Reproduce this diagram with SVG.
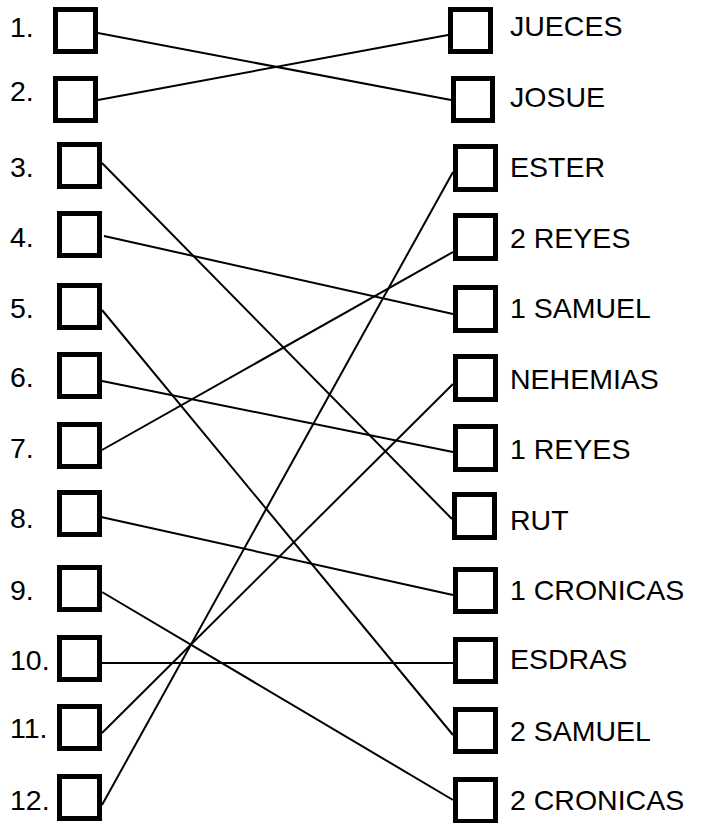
<svg xmlns="http://www.w3.org/2000/svg" width="705" height="823" viewBox="0 0 705 823">
<style>
.box{fill:#fff;stroke:#000;stroke-width:5}
.lbl{font-family:"Liberation Sans",Arial,sans-serif;font-size:28.5px;fill:#000}
.ln{stroke:#000;stroke-width:2;fill:none}
</style>
<rect width="705" height="823" fill="#fff"/>
<g id="connectors">
<line class="ln" x1="98" y1="33" x2="451" y2="100"/>
<line class="ln" x1="98" y1="100" x2="448" y2="35"/>
<line class="ln" x1="102" y1="163" x2="452" y2="519"/>
<line class="ln" x1="104" y1="236" x2="453" y2="314"/>
<line class="ln" x1="102" y1="310" x2="453" y2="735"/>
<line class="ln" x1="102" y1="381" x2="453" y2="452"/>
<line class="ln" x1="102" y1="450" x2="453" y2="252"/>
<line class="ln" x1="101" y1="517" x2="453" y2="595"/>
<line class="ln" x1="102" y1="592" x2="453" y2="800"/>
<line class="ln" x1="102" y1="663" x2="453" y2="663"/>
<line class="ln" x1="102" y1="733" x2="453" y2="384"/>
<line class="ln" x1="102" y1="805" x2="453" y2="172"/>
</g>
<g id="left-1"><rect class="box" x="55.5" y="9.5" width="40" height="42"/><text class="lbl" x="10" y="37">1.</text></g>
<g id="left-2"><rect class="box" x="55.5" y="78.5" width="40" height="42"/><text class="lbl" x="10" y="101">2.</text></g>
<g id="left-3"><rect class="box" x="59.5" y="144.5" width="40" height="42"/><text class="lbl" x="10" y="177">3.</text></g>
<g id="left-4"><rect class="box" x="59.5" y="213.5" width="40" height="42"/><text class="lbl" x="10" y="247">4.</text></g>
<g id="left-5"><rect class="box" x="59.5" y="285.5" width="40" height="42"/><text class="lbl" x="10" y="318">5.</text></g>
<g id="left-6"><rect class="box" x="59.5" y="354.5" width="40" height="42"/><text class="lbl" x="10" y="387">6.</text></g>
<g id="left-7"><rect class="box" x="59.5" y="424.5" width="40" height="42"/><text class="lbl" x="10" y="458">7.</text></g>
<g id="left-8"><rect class="box" x="59.5" y="492.5" width="40" height="42"/><text class="lbl" x="10" y="528">8.</text></g>
<g id="left-9"><rect class="box" x="59.5" y="567.5" width="40" height="42"/><text class="lbl" x="10" y="600">9.</text></g>
<g id="left-10"><rect class="box" x="59.5" y="637.5" width="40" height="42"/><text class="lbl" x="10" y="670">10.</text></g>
<g id="left-11"><rect class="box" x="59.5" y="706.5" width="40" height="42"/><text class="lbl" x="10" y="738">11.</text></g>
<g id="left-12"><rect class="box" x="59.5" y="776.5" width="40" height="42"/><text class="lbl" x="10" y="810">12.</text></g>
<g id="right-jueces"><rect class="box" x="450.5" y="9.5" width="40" height="42"/><text class="lbl" x="510" y="36">JUECES</text></g>
<g id="right-josue"><rect class="box" x="453.5" y="78.5" width="39" height="42"/><text class="lbl" x="510" y="107">JOSUE</text></g>
<g id="right-ester"><rect class="box" x="455.5" y="146.5" width="40" height="43"/><text class="lbl" x="510" y="177">ESTER</text></g>
<g id="right-2reyes"><rect class="box" x="455.5" y="215.5" width="40" height="43"/><text class="lbl" x="510" y="248">2 REYES</text></g>
<g id="right-1samuel"><rect class="box" x="455.5" y="287.5" width="40" height="43"/><text class="lbl" x="510" y="318">1 SAMUEL</text></g>
<g id="right-nehemias"><rect class="box" x="455.5" y="356.5" width="40" height="43"/><text class="lbl" x="510" y="389">NEHEMIAS</text></g>
<g id="right-1reyes"><rect class="box" x="455.5" y="426.5" width="40" height="43"/><text class="lbl" x="510" y="459">1 REYES</text></g>
<g id="right-rut"><rect class="box" x="454.5" y="494.5" width="40" height="43"/><text class="lbl" x="510" y="530">RUT</text></g>
<g id="right-1cronicas"><rect class="box" x="455.5" y="569.5" width="40" height="42"/><text class="lbl" x="510" y="600">1 CRONICAS</text></g>
<g id="right-esdras"><rect class="box" x="455.5" y="639.5" width="40" height="42"/><text class="lbl" x="510" y="669">ESDRAS</text></g>
<g id="right-2samuel"><rect class="box" x="455.5" y="709.5" width="40" height="42"/><text class="lbl" x="510" y="741">2 SAMUEL</text></g>
<g id="right-2cronicas"><rect class="box" x="455.5" y="779.5" width="40" height="42"/><text class="lbl" x="510" y="810">2 CRONICAS</text></g>
</svg>
